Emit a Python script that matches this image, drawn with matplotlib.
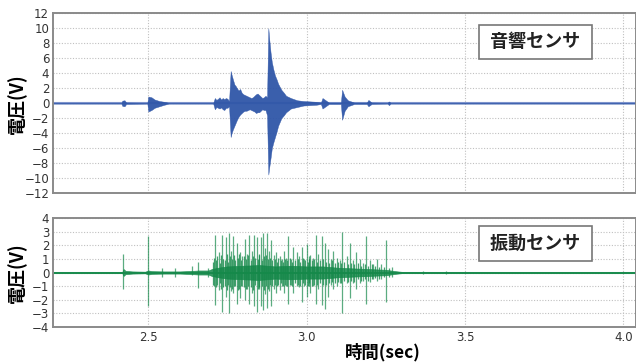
import matplotlib.pyplot as plt
import numpy as np

# ====== acoustic sensor envelope (time, upper, lower) ======
ac_t = [2.20, 2.415, 2.418, 2.425, 2.43, 2.497, 2.50, 2.51, 2.52, 2.535, 2.55, 2.565,
        2.705, 2.71, 2.715, 2.72, 2.725, 2.73, 2.735, 2.74, 2.745, 2.75, 2.755,
        2.760, 2.763, 2.767, 2.772, 2.776, 2.78, 2.785, 2.79, 2.795, 2.80, 2.805, 2.81,
        2.815, 2.82, 2.825, 2.83, 2.835, 2.84, 2.845, 2.85, 2.855, 2.86, 2.865, 2.87, 2.875,
        2.879, 2.882, 2.886, 2.89, 2.895, 2.90, 2.905, 2.91, 2.915, 2.92, 2.928, 2.935,
        2.95, 2.97, 2.99, 3.03, 3.045, 3.05, 3.06, 3.07, 3.108, 3.112, 3.12, 3.13,
        3.15, 3.19, 3.195, 3.205, 3.255, 3.26, 3.265, 4.05]
ac_up = [0.05, 0.05, 0.35, 0.4, 0.1, 0.05, 0.9, 0.8, 0.5, 0.3, 0.2, 0.05,
         0.05, 0.7, 0.45, 0.6, 0.8, 0.5, 0.7, 0.55, 0.7, 0.6, 0.3,
         4.3, 3.8, 3.2, 2.5, 2.3, 2.0, 1.7, 1.9, 1.4, 1.2, 1.1, 1.0,
         0.9, 0.8, 0.7, 0.8, 1.0, 1.2, 1.3, 1.1, 0.9, 0.7, 0.8, 1.0, 0.8,
         10.0, 8.5, 6.8, 5.5, 4.5, 3.7, 3.2, 2.6, 2.2, 1.8, 1.4, 1.0,
         0.7, 0.4, 0.3, 0.2, 0.1, 0.7, 0.4, 0.1, 0.1, 1.8, 0.9, 0.4,
         0.1, 0.1, 0.45, 0.1, 0.05, 0.25, 0.05, 0.05]
ac_lo = [-0.05, -0.05, -0.35, -0.4, -0.1, -0.05, -1.1, -0.9, -0.6, -0.4, -0.2, -0.05,
         -0.05, -0.8, -0.5, -0.6, -0.7, -0.55, -0.8, -0.9, -0.6, -0.6, -0.4,
         -4.5, -4.0, -3.5, -3.0, -2.6, -2.2, -1.8, -1.5, -1.3, -1.1, -1.0, -1.0,
         -0.9, -0.8, -0.9, -1.0, -1.1, -1.3, -1.2, -1.2, -1.0, -0.8, -0.9, -0.9, -1.6,
         -9.5, -8.5, -7.3, -6.0, -5.2, -4.5, -3.8, -3.0, -2.5, -2.0, -1.6, -1.2,
         -0.7, -0.5, -0.3, -0.2, -0.1, -0.7, -0.4, -0.1, -0.1, -2.2, -1.0, -0.4,
         -0.1, -0.1, -0.4, -0.1, -0.05, -0.25, -0.05, -0.05]

# ====== vibration sensor: dense core envelope ======
vb_t = [2.20, 2.418, 2.422, 2.428, 2.45, 2.49, 2.50, 2.51, 2.55, 2.60, 2.64, 2.66, 2.69,
        2.70, 2.72, 2.75, 2.80, 2.85, 2.90, 2.95, 3.00, 3.05, 3.10, 3.15, 3.20, 3.25,
        3.28, 3.30, 4.05]
vb_amp = [0.05, 0.05, 0.25, 0.12, 0.08, 0.06, 0.15, 0.1, 0.08, 0.08, 0.12, 0.15, 0.15,
          0.25, 0.35, 0.45, 0.5, 0.55, 0.45, 0.5, 0.45, 0.45, 0.35, 0.3, 0.25, 0.2,
          0.1, 0.05, 0.05]

# ====== vibration sensor: large spikes ======
spk_t = [2.421, 2.500, 2.543, 2.584, 2.637, 2.656, 2.688,
         2.710, 2.722, 2.733, 2.745, 2.756, 2.762, 2.768, 2.779, 2.789, 2.797, 2.805,
         2.812, 2.819, 2.827, 2.834, 2.842, 2.848, 2.855, 2.863, 2.870, 2.876, 2.882,
         2.888, 2.896, 2.903, 2.915, 2.922, 2.929, 2.936, 2.942, 2.950, 2.958, 2.968,
         2.976, 2.984, 2.992, 3.000, 3.006, 3.012, 3.020, 3.029, 3.036, 3.047, 3.057,
         3.068, 3.076, 3.084, 3.096, 3.104, 3.112, 3.126, 3.136, 3.146, 3.157, 3.168,
         3.178, 3.189, 3.200, 3.210, 3.221, 3.236, 3.252, 3.268, 3.367, 3.439]
spk_up = [1.4, 2.7, 0.3, 0.3, 0.5, 0.8, 0.3,
          2.75, 1.5, 2.8, 2.6, 2.9, 1.6, 2.7, 2.2, 1.5, 1.2, 2.5,
          1.4, 2.8, 1.6, 2.8, 2.6, 1.3, 2.6, 2.9, 1.8, 2.9, 1.6,
          2.4, 1.3, 1.5, 1.2, 1.0, 1.6, 1.1, 2.7, 1.0, 1.9, 1.5,
          1.2, 1.9, 1.0, 2.1, 1.2, 1.3, 1.1, 2.8, 1.4, 2.7, 2.2,
          1.7, 1.0, 1.6, 1.1, 0.9, 3.0, 1.2, 2.2, 0.9, 1.5, 1.0,
          0.7, 2.7, 0.9, 0.6, 1.0, 0.6, 2.4, 0.4, 0.1, 0.1]
spk_lo = [-1.2, -2.5, -0.3, -0.3, -0.2, -1.15, -0.3,
          -2.4, -1.3, -2.9, -1.8, -3.0, -1.4, -1.5, -2.3, -1.9, -1.0, -2.0,
          -1.2, -2.3, -1.5, -2.5, -2.9, -1.2, -2.5, -2.8, -1.6, -2.6, -1.4,
          -2.5, -1.2, -1.5, -1.3, -1.0, -1.5, -1.0, -2.3, -0.9, -1.5, -1.0,
          -1.1, -2.2, -1.0, -1.8, -1.0, -1.5, -1.0, -2.3, -1.2, -2.4, -2.7,
          -1.8, -0.9, -1.2, -1.0, -0.8, -3.0, -0.8, -1.9, -0.8, -1.2, -0.8,
          -0.6, -2.3, -0.7, -0.5, -0.6, -0.5, -2.2, -0.3, -0.1, -0.1]

# ====== vibration sensor: smaller spikes inside the burst ======
mnr_t = [2.703, 2.707, 2.714, 2.718, 2.726, 2.729, 2.737, 2.741, 2.750, 2.753,
         2.759, 2.765, 2.772, 2.775, 2.783, 2.786, 2.793, 2.801, 2.808, 2.815,
         2.823, 2.830, 2.838, 2.845, 2.851, 2.858, 2.866, 2.873, 2.879, 2.885,
         2.892, 2.899, 2.907, 2.911, 2.919, 2.925, 2.932, 2.939, 2.946, 2.954,
         2.962, 2.972, 2.980, 2.988, 2.996, 3.003, 3.009, 3.016, 3.024, 3.032,
         3.041, 3.052, 3.062, 3.072, 3.080, 3.090, 3.100, 3.108, 3.118, 3.131,
         3.141, 3.151, 3.162, 3.173, 3.184, 3.195, 3.205, 3.216, 3.228, 3.244, 3.260]
mnr_up = [0.8, 1.1, 0.9, 1.2, 0.7, 1.3, 1.0, 0.9, 1.4, 0.8,
          1.2, 1.0, 1.3, 0.9, 1.1, 1.4, 0.9, 1.2, 1.0, 1.3,
          0.9, 1.2, 1.1, 1.0, 1.4, 0.9, 1.2, 1.3, 1.0, 1.1,
          0.9, 1.0, 0.8, 1.1, 0.9, 0.8, 1.0, 0.9, 1.1, 0.8,
          0.9, 1.0, 0.8, 1.1, 0.9, 0.8, 1.0, 0.9, 1.0, 0.8,
          0.9, 1.0, 0.8, 0.7, 0.9, 0.7, 0.8, 0.7, 0.8, 0.6,
          0.7, 0.6, 0.7, 0.5, 0.6, 0.5, 0.6, 0.5, 0.4, 0.4, 0.3]
mnr_lo = [-0.9, -1.0, -1.1, -0.9, -0.8, -1.2, -1.1, -1.0, -1.3, -0.9,
          -1.1, -1.2, -1.0, -1.0, -1.3, -1.2, -1.0, -1.1, -1.2, -1.0,
          -1.1, -1.3, -0.9, -1.2, -1.1, -1.0, -1.3, -1.0, -1.2, -0.9,
          -1.0, -0.9, -1.0, -0.9, -0.8, -1.0, -0.9, -1.0, -0.9, -1.0,
          -0.8, -0.9, -1.0, -0.8, -0.9, -1.0, -0.8, -1.0, -0.9, -0.9,
          -0.8, -0.9, -0.9, -0.8, -0.7, -0.8, -0.7, -0.8, -0.6, -0.7,
          -0.6, -0.7, -0.5, -0.6, -0.5, -0.6, -0.5, -0.4, -0.5, -0.3, -0.3]

BLUE = "#2f56a8"
GREEN = "#15894a"
JP = ["Noto Sans CJK JP", "DejaVu Sans"]

fig = plt.figure(figsize=(6.36, 3.63), dpi=100)
ax1 = fig.add_axes([0.0838, 0.4675, 0.9162, 0.496])
ax2 = fig.add_axes([0.0838, 0.10, 0.9162, 0.2986], sharex=ax1)

ax1.plot(ac_t, np.zeros(len(ac_t)), color="#7d93cc", lw=1.5, zorder=1)
ax1.fill_between(ac_t, ac_lo, ac_up, color=BLUE, lw=0.3, alpha=0.95, zorder=2)

vb_amp = np.array(vb_amp)
ax2.plot(vb_t, np.zeros(len(vb_t)), color=GREEN, lw=1.2, zorder=1)
ax2.fill_between(vb_t, -vb_amp, vb_amp, color=GREEN, lw=0.5, alpha=0.85, zorder=2)
ax2.vlines(mnr_t, mnr_lo, mnr_up, color=GREEN, lw=0.9, alpha=0.8, zorder=2)
ax2.vlines(spk_t, spk_lo, spk_up, color=GREEN, lw=0.9, alpha=0.7, zorder=3)

for ax in (ax1, ax2):
    ax.grid(True, linestyle=(0, (1, 1.5)), color="#c0c0c0", lw=0.8)
    ax.set_axisbelow(True)
    for s in ax.spines.values():
        s.set_color("#8a8a8a")
        s.set_linewidth(1.4)
    ax.tick_params(length=0, labelsize=8.5, colors="#333333", pad=3)
    ax.set_ylabel("電圧(V)", family=JP, fontsize=13, fontweight="bold")
    ax.yaxis.set_label_coords(-0.045, 0.5)

ax1.set_xlim(2.2, 4.04)
ax1.set_ylim(-12, 12)
ax1.set_yticks(np.arange(-12, 13, 2))
ax1.set_xticks([2.5, 3.0, 3.5, 4.0])
ax1.tick_params(labelbottom=False)

ax2.set_ylim(-4, 4)
ax2.set_yticks(np.arange(-4, 5, 1))
ax2.set_xticklabels(["2.5", "3.0", "3.5", "4.0"])
ax2.set_xlabel("時間(sec)", family=JP, fontsize=12.5, fontweight="bold")
ax2.xaxis.set_label_coords(0.566, -0.15)

box = dict(boxstyle="square,pad=0.42", fc="white", ec="#777777", lw=1.2)
ax1.text(0.8275, 0.841, " 音響センサ ", transform=ax1.transAxes, ha="center", va="center",
         family=JP, fontsize=13, fontweight="bold", color="#222222", bbox=box)
ax2.text(0.8275, 0.768, " 振動センサ ", transform=ax2.transAxes, ha="center", va="center",
         family=JP, fontsize=13, fontweight="bold", color="#222222", bbox=box)

fig.savefig("out.png", dpi=100)
